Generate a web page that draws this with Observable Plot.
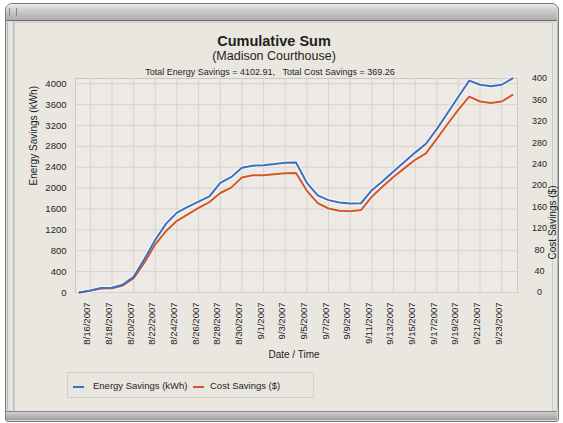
<!DOCTYPE html>
<html><head><meta charset="utf-8">
<script src="https://cdn.jsdelivr.net/npm/d3@7"></script>
<script src="https://cdn.jsdelivr.net/npm/@observablehq/plot@0.6"></script>
<style>
body{margin:0;background:#fff;font-family:"Liberation Sans",Arial,sans-serif;color:#1e1e1e;}
#wrap{position:relative;width:563px;height:423px;overflow:hidden;background:#fff;}
.abs{position:absolute;}
.win{left:5px;top:3px;width:552px;height:417px;border:1px solid #7a7a7a;border-radius:7px 7px 3px 3px;background:#dcdad5;}
.tbar{left:6px;top:4px;width:551px;height:16px;border-radius:6px 6px 0 0;background:linear-gradient(#ececec,#c9c9c9 45%,#aeaeae);border-bottom:1px solid #6d6d6d;}
.grip{left:9px;top:8px;width:6px;height:8px;border-left:1px solid #888;border-right:1px solid #888;}
.side{top:22px;width:5px;height:388px;border-left:1px solid #b9b9b9;border-right:1px solid #b9b9b9;background:#e6e4df;}
.panel{left:14px;top:22px;width:537px;height:388px;background:#EAE7E0;border:1px solid #cfccc5;}
.bbar{left:6px;top:411px;width:551px;height:8px;background:linear-gradient(#d0d0d0,#9d9d9d);border-top:1px solid #888;}
.ctr{transform:translateX(-50%);white-space:nowrap;}
.t1{left:274px;top:33.5px;font-size:14.5px;line-height:14.5px;font-weight:bold;}
.t2{left:274px;top:49.5px;font-size:12.5px;line-height:12.5px;}
.t3{left:270px;top:68px;font-size:9px;line-height:9px;}
.xl{left:294px;top:349.5px;font-size:10px;line-height:10px;}
.leg{left:67px;top:372px;width:245px;height:24px;border:1px solid #d2cfc8;background:#E9E6DF;}
.sw{width:11px;height:2px;top:386px;}
.lt{top:381px;font-size:9.5px;line-height:9.5px;white-space:nowrap;}
#chart{left:0;top:0;}
</style></head><body>
<div id="wrap">
  <div class="abs win"></div>
  <div class="abs tbar"></div>
  <div class="abs grip"></div>
  <div class="abs side" style="left:7px"></div>
  <div class="abs side" style="left:551px"></div>
  <div class="abs panel"></div>
  <div class="abs bbar"></div>
  <div class="abs" id="chart"></div>
  <div class="abs ctr t1">Cumulative Sum</div>
  <div class="abs ctr t2">(Madison Courthouse)</div>
  <div class="abs ctr t3">Total Energy Savings = 4102.91,&nbsp;&nbsp; Total Cost Savings = 369.26</div>
  <div class="abs ctr xl">Date / Time</div>
  <div class="abs leg"></div>
  <div class="abs sw" style="left:73px;background:#3D6FC2"></div>
  <div class="abs lt" style="left:93px">Energy Savings (kWh)</div>
  <div class="abs sw" style="left:193px;background:#D4572A"></div>
  <div class="abs lt" style="left:210px">Cost Savings ($)</div>
</div>
<script>
const dates = ["2007-08-15","2007-08-16","2007-08-17","2007-08-18","2007-08-19","2007-08-20","2007-08-21","2007-08-22","2007-08-23","2007-08-24",
"2007-08-25","2007-08-26","2007-08-27","2007-08-28","2007-08-29","2007-08-30","2007-08-31","2007-09-01","2007-09-02","2007-09-03",
"2007-09-04","2007-09-05","2007-09-06","2007-09-07","2007-09-08","2007-09-09","2007-09-10","2007-09-11","2007-09-12","2007-09-13",
"2007-09-14","2007-09-15","2007-09-16","2007-09-17","2007-09-18","2007-09-19","2007-09-20","2007-09-21","2007-09-22","2007-09-23","2007-09-24"];
const energySavings = [0,40,85,90,150,300,640,1010,1320,1530,1640,1740,1840,2100,2210,2390,2430,2440,2460,2485,
2490,2100,1860,1770,1725,1705,1710,1960,2130,2320,2500,2680,2850,3130,3440,3750,4060,3980,3950,3980,4102.91];
const costSavings = [0,3.5,7.5,8,13,27,56,90,115,134,146,158,169,186,196,215,219,219,221,223,
223.5,190,167,157,153,152,154,179,198,216,232,248,260,287,315,342,366,357,354,357,369.26];
const leftTicks = [0,400,800,1200,1600,2000,2400,2800,3200,3600,4000];
const rightTicks = [0,40,80,120,160,200,240,280,320,360,400];
const xTickLabels = ["8/16/2007","8/18/2007","8/20/2007","8/22/2007","8/24/2007","8/26/2007","8/28/2007","8/30/2007","9/1/2007","9/3/2007",
"9/5/2007","9/7/2007","9/9/2007","9/11/2007","9/13/2007","9/15/2007","9/17/2007","9/19/2007","9/21/2007","9/23/2007"];

const leftMax = 4100, rightMax = 400, k = leftMax / rightMax;
const parseISO = d3.utcParse("%Y-%m-%d");
const parseLbl = d3.utcParse("%m/%d/%Y");
const rows = dates.map((d, i) => ({date: parseISO(d), energy: energySavings[i], cost: costSavings[i]}));
const tickDates = xTickLabels.map(parseLbl);
const blue = "#3D6FC2", red = "#D4572A";

const chart = Plot.plot({
  width: 563, height: 423,
  marginLeft: 75, marginRight: 46, marginTop: 78, marginBottom: 131,
  style: {background: "transparent", fontFamily: "'Liberation Sans', Arial, sans-serif", fontSize: "9.5px", color: "#1e1e1e"},
  x: {type: "utc", axis: null, domain: [new Date("2007-08-14T15:00Z"), new Date("2007-09-24T11:00Z")]},
  y: {axis: null, domain: [0, leftMax]},
  marks: [
    Plot.frame({fill: "#EDEAE5", stroke: "#CBC8C1"}),
    Plot.gridY(leftTicks, {stroke: "#D6D3CC", strokeOpacity: 1}),
    Plot.gridX(tickDates, {stroke: "#D6D3CC", strokeOpacity: 1}),
    Plot.axisY(leftTicks, {anchor: "left", tickSize: 0, tickPadding: 9, label: null, tickFormat: d => String(d)}),
    Plot.axisY(rightTicks.map(v => v * k), {anchor: "right", tickSize: 0, tickPadding: 22, textAnchor: "middle", fontSize: 9, label: null, tickFormat: d => String(Math.round(d / k))}),
    Plot.text(xTickLabels, {x: (d, i) => tickDates[i], text: d => d, frameAnchor: "bottom", rotate: -90, textAnchor: "end", dy: 10}),
    Plot.text(["Energy Savings (kWh)"], {frameAnchor: "left", dx: -42, rotate: -90, fontSize: 10}),
    Plot.text(["Cost Savings ($)"], {frameAnchor: "right", dx: 35, rotate: -90, fontSize: 10}),
    Plot.line(rows, {x: "date", y: "energy", stroke: "#ffffff", strokeOpacity: 0.55, strokeWidth: 4.5}),
    Plot.line(rows, {x: "date", y: d => d.cost * k, stroke: "#ffffff", strokeOpacity: 0.4, strokeWidth: 4}),
    Plot.line(rows, {x: "date", y: d => d.cost * k, stroke: red, strokeWidth: 2}),
    Plot.line(rows, {x: "date", y: "energy", stroke: blue, strokeWidth: 2})
  ]
});
document.getElementById("chart").appendChild(chart);
</script>
</body></html>
